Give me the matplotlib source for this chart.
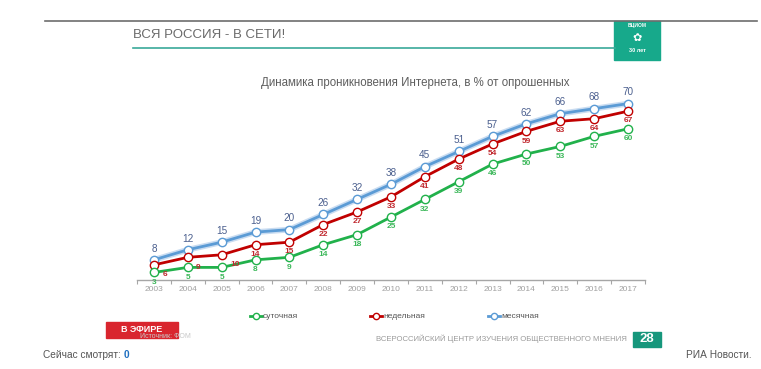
import matplotlib
matplotlib.use("Agg")
import matplotlib.pyplot as plt
from matplotlib.patches import Rectangle

# ── Data ──────────────────────────────────────────────────────────────────────
YEARS   = [str(y) for y in range(2003, 2018)]
DAILY   = [3, 5, 5, 8, 9, 14, 18, 25, 32, 39, 46, 50, 53, 57, 60]
WEEKLY  = [6, 9, 10, 14, 15, 22, 27, 33, 41, 48, 54, 59, 63, 64, 67]
MONTHLY = [8, 12, 15, 19, 20, 26, 32, 38, 45, 51, 57, 62, 66, 68, 70]

SERIES_NAMES = ["суточная", "недельная", "месячная"]
TITLE  = "Динамика проникновения Интернета, в % от опрошенных"
HEADER = "ВСЯ РОССИЯ - В СЕТИ!"

W, H = 761, 369
plt.rcParams["font.family"] = ["Liberation Sans", "DejaVu Sans"]

fig = plt.figure(figsize=(W / 100, H / 100), dpi=100)
fig.patch.set_facecolor("white")

# full-figure overlay in pixel coordinates (y from top)
bg = fig.add_axes([0, 0, 1, 1])
bg.set_xlim(0, W)
bg.set_ylim(H, 0)
bg.axis("off")

# header
bg.plot([45, 757], [21, 21], color="#6d6d6d", lw=1.2)
bg.text(133, 35, HEADER, fontsize=9.5, color="#6a6a6a", va="center", ha="left")
bg.plot([133, 615], [48, 48], color="#3aa99a", lw=1.2)
bg.add_patch(Rectangle((614, 21), 46, 39, color="#17a98b"))
bg.text(637, 26, "ВЦИОМ", fontsize=3.5, color="white", ha="center", va="center",
        fontweight="bold")
bg.text(637, 51, "30 лет", fontsize=4, color="white", ha="center", va="center",
        fontweight="bold")
bg.text(637, 38, "✿", fontsize=8, color="white", ha="center", va="center",
        family=["DejaVu Sans"])

bg.text(415, 83, TITLE, fontsize=8.3, color="#5e5e5e", ha="center", va="center")

# footer
bg.text(140, 337, "Источник: ФОМ", fontsize=5, color="#c8c8c8", va="center")
bg.add_patch(Rectangle((106, 322), 72, 16, color="#d9252e"))
bg.text(142, 330, "В ЭФИРЕ", fontsize=6.5, color="white", ha="center", va="center",
        fontweight="bold")
bg.text(627, 339, "ВСЕРОССИЙСКИЙ ЦЕНТР ИЗУЧЕНИЯ ОБЩЕСТВЕННОГО МНЕНИЯ",
        fontsize=5.6, color="#9a9a9a", ha="right", va="center")
bg.add_patch(Rectangle((633, 332), 28, 15, color="#16977c"))
bg.text(647, 339.5, "28", fontsize=9.5, color="white", ha="center", va="center",
        fontweight="bold")
bg.text(43, 355, "Сейчас смотрят:", fontsize=7.3, color="#555555", va="center")
bg.text(124, 355, "0", fontsize=7.3, color="#1f6fc0", va="center", fontweight="bold")
bg.text(752, 355, "РИА Новости.", fontsize=7.3, color="#555555", va="center", ha="right")

# ── Chart axes ────────────────────────────────────────────────────────────────
x0_px, x1_px = 137, 645
y0_px, unit = 280, 2.52
ymax = 75
ax = fig.add_axes([x0_px / W, (H - y0_px) / H,
                   (x1_px - x0_px) / W, ymax * unit / H])
ax.set_facecolor("none")
ax.set_xlim(-0.44, 14.44)
ax.set_ylim(0, ymax)
for s in ["top", "right", "left"]:
    ax.spines[s].set_visible(False)
ax.spines["bottom"].set_color("#a6a6a6")
ax.spines["bottom"].set_linewidth(1.0)
ax.set_yticks([])
x = list(range(len(YEARS)))
ax.set_xticks([i + 0.5 for i in range(-1, len(YEARS))], minor=False)
ax.set_xticklabels([])
ax.tick_params(axis="x", length=3, color="#a6a6a6", direction="out")
for i, yr in enumerate(YEARS):
    ax.text(i, -2.3, yr, fontsize=6, color="#a0a0a0", ha="center", va="top")

mk = dict(marker="o", ms=6, mfc="white", mew=1.0, zorder=3)

# monthly (blue with pale glow)
ax.plot(x, MONTHLY, color="#c9dcf1", lw=4.2, zorder=2, solid_capstyle="round")
ax.plot(x, MONTHLY, color="#5b9bd5", lw=2.0, mec="#5b9bd5", **mk)
# weekly
ax.plot(x, WEEKLY, color="#c00000", lw=2.0, mec="#c00000", **mk)
# daily
ax.plot(x, DAILY, color="#21b14b", lw=2.0, mec="#21b14b", **mk)

red_dx = {0: 0.32, 1: 0.3, 2: 0.4}
for i in x:
    ax.annotate(str(MONTHLY[i]), (i, MONTHLY[i]), xytext=(0, 4.5),
                textcoords="offset points", ha="center", va="bottom",
                fontsize=7.2, color="#4b5f8e")
    ax.annotate(str(WEEKLY[i]), (i + red_dx.get(i, 0), WEEKLY[i]), xytext=(0, -4.5),
                textcoords="offset points", ha="center", va="top",
                fontsize=6, color="#c0272d", fontweight="bold")
    ax.annotate(str(DAILY[i]), (i, DAILY[i]), xytext=(0, -4.5),
                textcoords="offset points", ha="center", va="top",
                fontsize=6, color="#3cb85a", fontweight="bold")

# legend (manual, in pixel overlay)
leg_items = [(250, "#21b14b", SERIES_NAMES[0]),
             (370, "#c00000", SERIES_NAMES[1]),
             (488, "#5b9bd5", SERIES_NAMES[2])]
for lx, col, name in leg_items:
    bg.plot([lx, lx + 12], [316, 316], color=col, lw=2.0)
    bg.plot([lx + 6], [316], marker="o", ms=4.5, mfc="white", mec=col, mew=1.0)
    bg.text(lx + 13, 316, name, fontsize=6, color="#555555", va="center")

fig.savefig("out.png", dpi=100)
